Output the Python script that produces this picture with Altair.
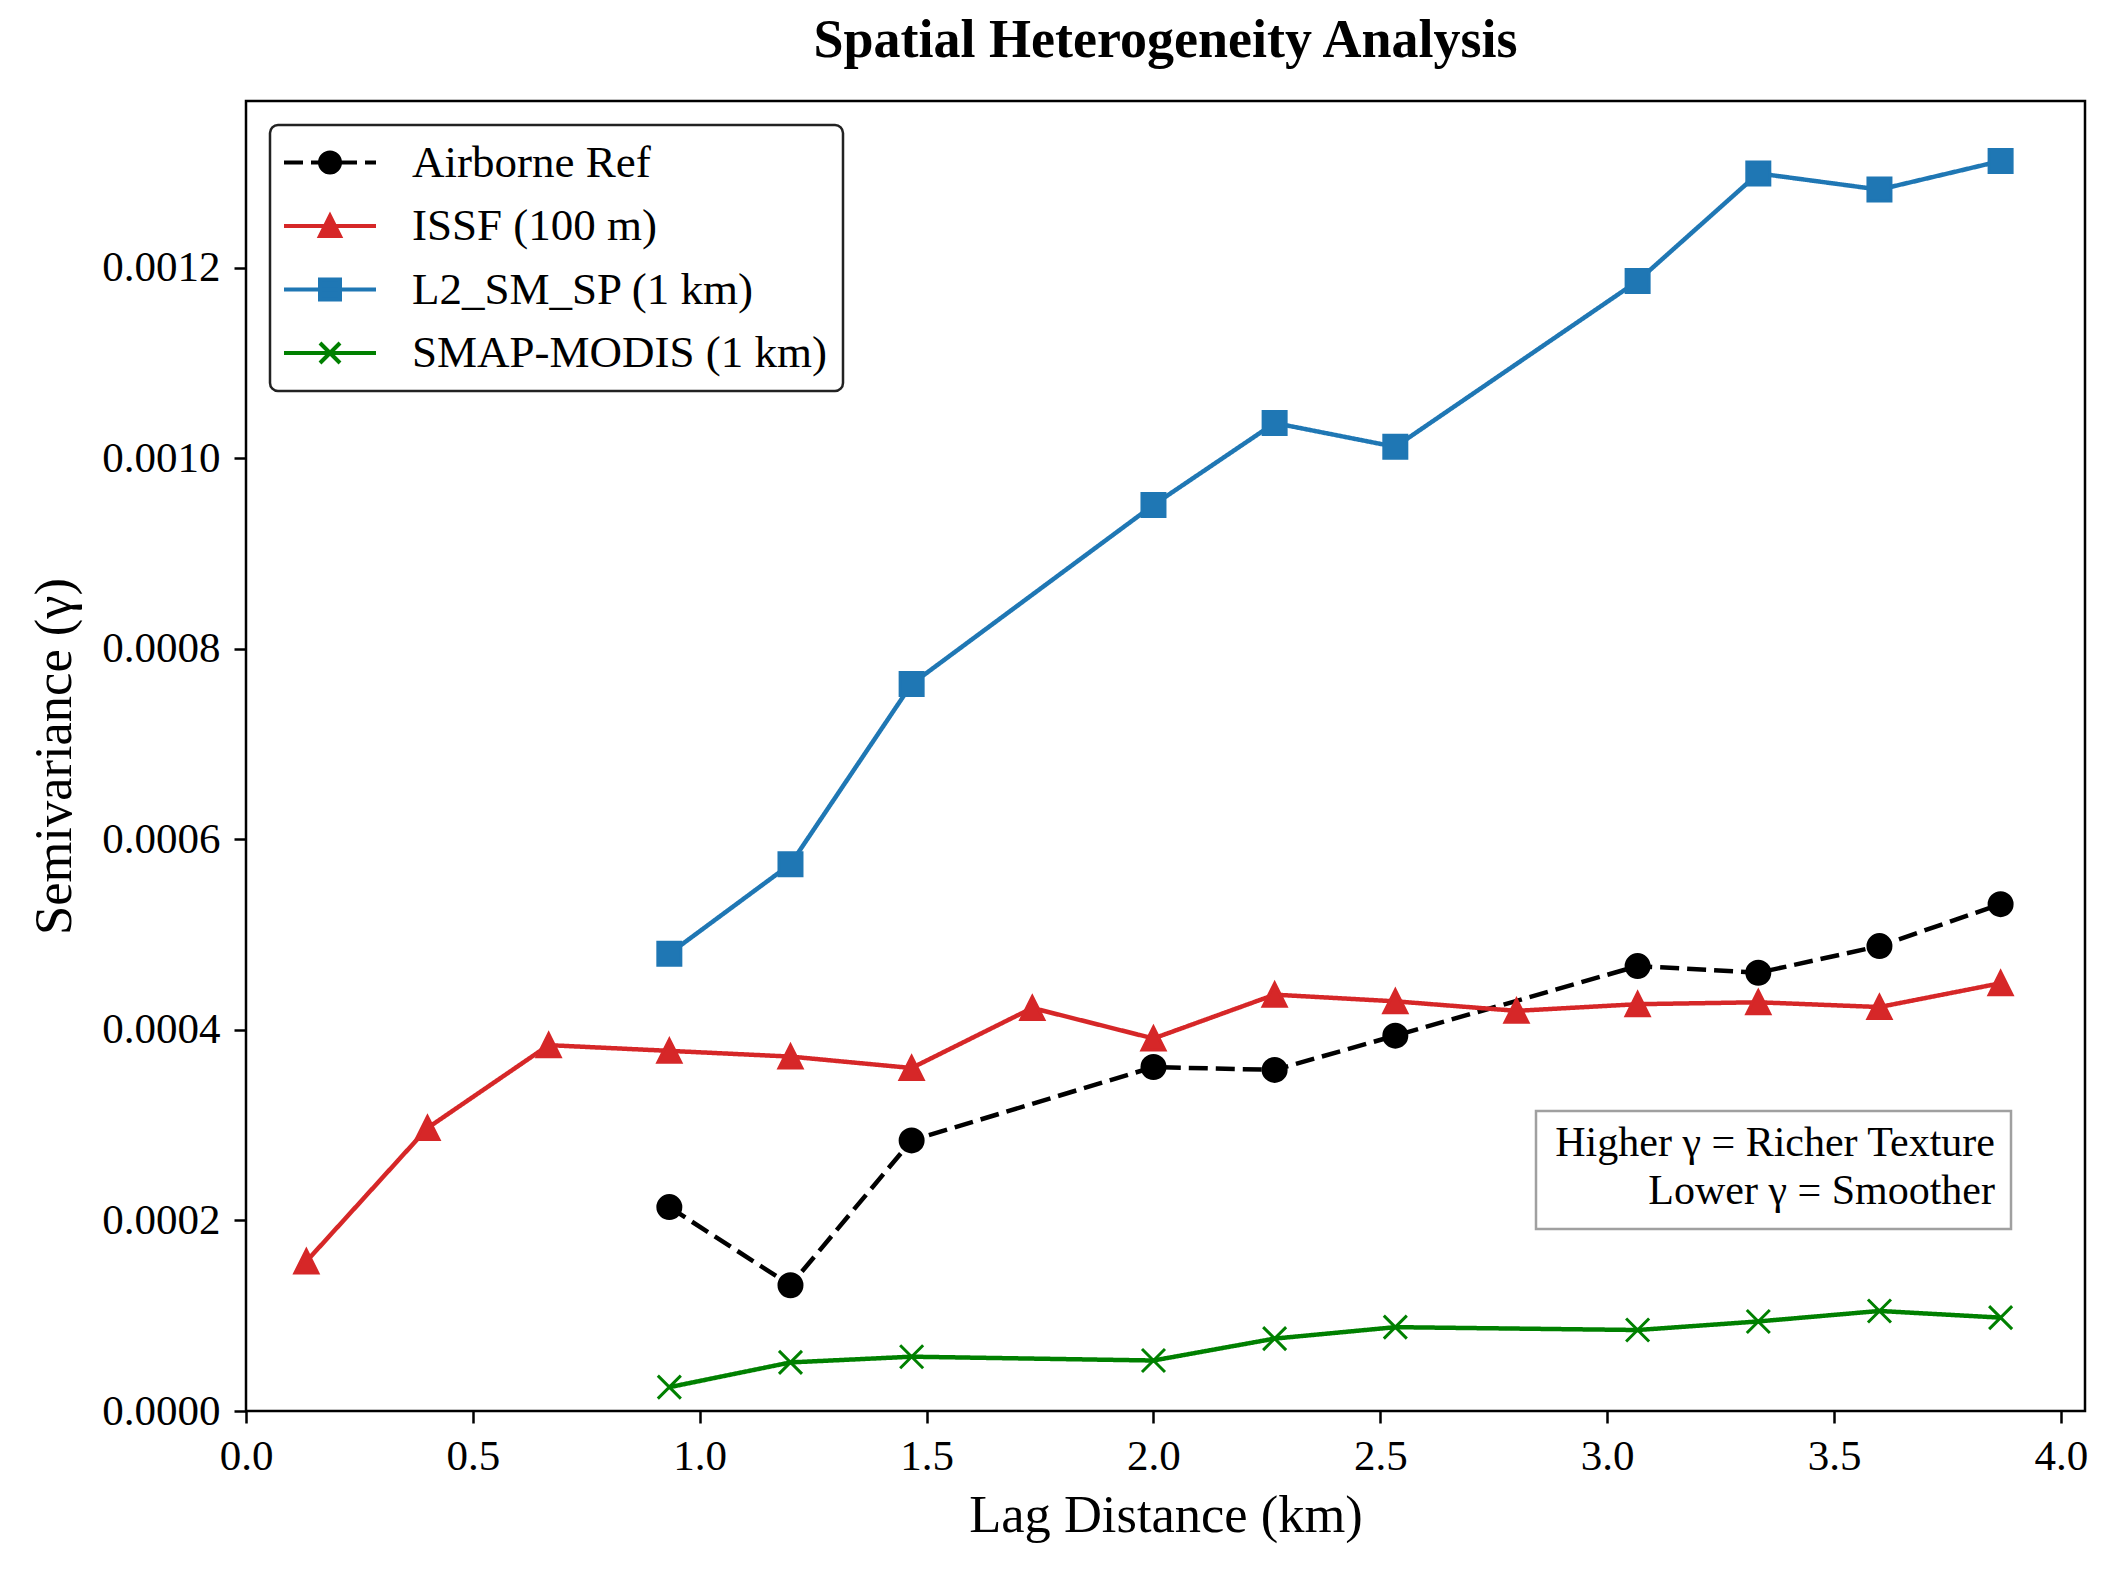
import altair as alt
import pandas as pd

# ---------------- data ----------------
lag_km = [0.133, 0.400, 0.667, 0.933, 1.200, 1.467, 1.733, 2.000,
          2.267, 2.533, 2.800, 3.067, 3.333, 3.600, 3.867]
airborne_ref = [None, None, None, 0.000214, 0.000132, 0.000284, None, 0.000361,
                0.000358, 0.000394, None, 0.000467, 0.000460, 0.000488, 0.000532]
issf_100m = [0.000157, 0.000297, 0.000384, 0.000378, 0.000372, 0.000360, 0.000423, 0.000391,
             0.000437, 0.000430, 0.000420, 0.000427, 0.000429, 0.000424, 0.000449]
l2_sm_sp = [None, None, None, 0.000480, 0.000574, 0.000763, None, 0.000951,
            0.001037, 0.001012, None, 0.001186, 0.001299, 0.001282, 0.001312]
smap_modis = [None, None, None, 0.000025, 0.000051, 0.000057, None, 0.000053,
              0.000076, 0.000088, None, 0.000085, 0.000094, 0.000105, 0.000098]

series_names = ["Airborne Ref", "ISSF (100 m)", "L2_SM_SP (1 km)", "SMAP-MODIS (1 km)"]
series_colors = ["#000000", "#d62728", "#1f77b4", "#008000"]
x_ticks = [0.0, 0.5, 1.0, 1.5, 2.0, 2.5, 3.0, 3.5, 4.0]
y_ticks = [0.0, 0.0002, 0.0004, 0.0006, 0.0008, 0.0010, 0.0012]
annot_lines = ["Higher \u03b3 = Richer Texture", "Lower \u03b3 = Smoother"]

rows = []
for name, vals in zip(series_names, [airborne_ref, issf_100m, l2_sm_sp, smap_modis]):
    for xv, yv in zip(lag_km, vals):
        if yv is not None:
            rows.append({"series": name, "lag": xv, "gamma": yv})
df = pd.DataFrame(rows)
legend_df = pd.DataFrame({"entry": series_names})

# ---------------- styling ----------------
FONT = "Liberation Serif"
W, H = 1839, 1310

marker_paths = ["circle", "M0,-1L-1,1L1,1Z", "square", "M-1,-1L1,1M-1,1L1,-1"]

# legend symbols: line segment + marker (unit = 12.5 px for symbolSize 625)
m = 0.8
leg_circle = f"M{m},0A{m},{m} 0 1,1 -{m},0A{m},{m} 0 1,1 {m},0Z"
leg_tri = f"M0,-{m}L-{m},{m}L{m},{m}Z"
leg_sq = f"M-{m},-{m}H{m}V{m}H-{m}Z"
leg_x = f"M-{m},-{m}L{m},{m}M-{m},{m}L{m},-{m}"
solid = "M-3.68,0H3.68"
dashed = "M-3.68,0H-2.16M-1.52,0H0M0.64,0H2.16M2.8,0H3.68"
legend_paths = [dashed + leg_circle, solid + leg_tri, solid + leg_sq, solid + leg_x]

legend = alt.Legend(
    title=None,
    orient="none",
    legendX=24,
    legendY=24,
    direction="vertical",
    labelFont=FONT,
    labelFontSize=45,
    labelColor="black",
    labelLimit=700,
    symbolSize=625,
    symbolStrokeWidth=4,
    symbolOpacity=1,
    symbolOffset=22.5,
    labelOffset=59.5,
    padding=15,
    rowPadding=17.5,
    fillColor="white",
    strokeColor="#222222",
    cornerRadius=8,
)

x_enc = alt.X(
    "lag:Q",
    scale=alt.Scale(domain=[0, 4.053], nice=False, zero=False),
    axis=alt.Axis(
        values=x_ticks, format=".1f", title="Lag Distance (km)",
        labelPadding=12, labelFlush=False, titleY=104, titleBaseline="middle",
    ),
)
y_enc = alt.Y(
    "gamma:Q",
    scale=alt.Scale(domain=[0, 0.001375], nice=False, zero=False),
    axis=alt.Axis(
        values=y_ticks, format=".4f", title="Semivariance (\u03b3)",
        labelPadding=14, labelFlush=False, titleX=-192, titleY=H / 2, titleAngle=270,
        titleBaseline="middle", titleAlign="center",
    ),
)

base = alt.Chart(df)

lines = base.mark_line(strokeWidth=4.5).encode(
    x=x_enc,
    y=y_enc,
    color=alt.Color("series:N", scale=alt.Scale(domain=series_names, range=series_colors), legend=None),
    strokeDash=alt.StrokeDash(
        "series:N",
        scale=alt.Scale(domain=series_names, range=[[19, 8], [1, 0], [1, 0], [1, 0]]),
        legend=None,
    ),
)

points = base.mark_point(filled=True, size=529, strokeWidth=3, opacity=1).encode(
    x=x_enc,
    y=y_enc,
    color=alt.Color("series:N", scale=alt.Scale(domain=series_names, range=series_colors), legend=None),
    stroke=alt.Stroke("series:N", scale=alt.Scale(domain=series_names, range=series_colors), legend=None),
    shape=alt.Shape("series:N", scale=alt.Scale(domain=series_names, range=marker_paths), legend=None),
)

# legend-only layer: its data is filtered out, only its legend (from fixed domains) is drawn
legend_layer = alt.Chart(legend_df).transform_filter("false").mark_point(
    filled=True, opacity=1, strokeWidth=4
).encode(
    x=alt.value(0),
    y=alt.value(0),
    fill=alt.Fill("entry:N", scale=alt.Scale(domain=series_names, range=series_colors), legend=legend),
    stroke=alt.Stroke("entry:N", scale=alt.Scale(domain=series_names, range=series_colors), legend=legend),
    shape=alt.Shape("entry:N", scale=alt.Scale(domain=series_names, range=legend_paths), legend=legend),
)

box = alt.Chart(pd.DataFrame({"k": [0]})).mark_rect(
    fill="white", stroke="#a0a0a0", strokeWidth=2.5
).encode(
    x=alt.value(1290), x2=alt.value(1765), y=alt.value(1010), y2=alt.value(1128)
)

annot = alt.Chart(pd.DataFrame({"t": ["\n".join(annot_lines)]})).mark_text(
    align="right", baseline="middle", font=FONT, fontSize=42,
    lineHeight=48, lineBreak="\n", color="black",
).encode(x=alt.value(1749), y=alt.value(1042), text="t:N")

chart = alt.layer(lines, points, legend_layer, box, annot).resolve_scale(
    shape="independent", stroke="independent", fill="independent"
).properties(
    width=W,
    height=H,
    padding={"left": 238, "top": 93, "right": 24, "bottom": 155},
    autosize=alt.AutoSizeParams(type="none"),
    title=alt.TitleParams(
        "Spatial Heterogeneity Analysis",
        font=FONT, fontSize=54, fontWeight="bold", color="black",
        anchor="middle", frame="group", baseline="alphabetic", offset=-10,
    ),
).configure_view(
    stroke="black", strokeWidth=2.5
).configure_axis(
    labelFont=FONT, labelFontSize=43, labelColor="black",
    titleFont=FONT, titleFontSize=52.5, titleFontWeight="normal", titleColor="black",
    tickColor="black", tickWidth=2.5, tickSize=12,
    domain=False, grid=False,
).configure_legend(
    strokeWidth=2.5
)

chart.save("out.html", embed_options={"renderer": "svg", "actions": False})
